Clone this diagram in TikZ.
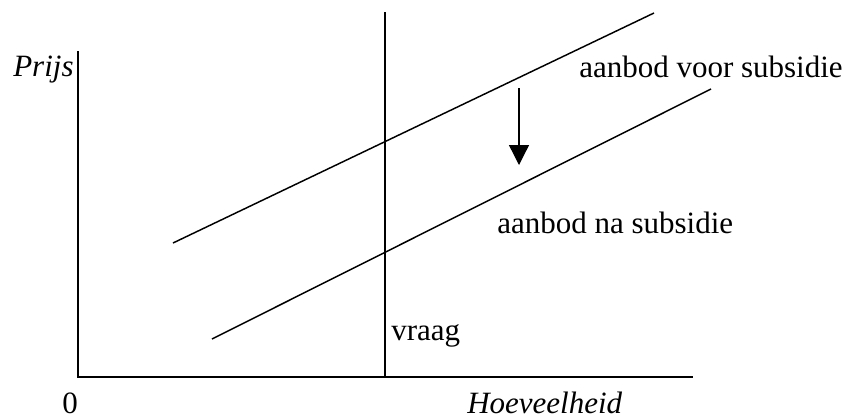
\documentclass[tikz,border=0pt]{standalone}
\usepackage{fontspec}
\setmainfont{Liberation Serif}
\usetikzlibrary{arrows.meta}
\begin{document}
\begin{tikzpicture}[x=0.75pt,y=-0.75pt,
  lbl/.style={inner sep=0pt,anchor=base west,font=\fontsize{23.25}{27}\selectfont},
  ilbl/.style={lbl,font=\fontsize{23.25}{27}\selectfont\itshape},
  curve/.style={line width=1.1pt},
  shiftarrow/.style={line width=1pt,-{Triangle[width=15pt,length=15pt]}}]
\useasboundingbox (0,0) rectangle (851,419);
% axes
\coordinate (ytop) at (78,51);
\coordinate (orig) at (78,377);
\coordinate (xend) at (693,377);
\draw[curve] (ytop) -- (orig) -- (xend);
% demand
\coordinate (dtop) at (385,12);
\coordinate (dbot) at (385,377);
\draw[curve] (dtop) -- (dbot);
% supply before
\coordinate (s1a) at (173,243);
\coordinate (s1b) at (654,13);
\draw[curve] (s1a) -- (s1b);
% supply after
\coordinate (s2a) at (212,339);
\coordinate (s2b) at (711,89);
\draw[curve] (s2a) -- (s2b);
% arrow
\coordinate (ar1) at (519,88);
\coordinate (ar2) at (519,165);
\draw[shiftarrow] (ar1) -- (ar2);
% labels
\node[ilbl] (prijs) at (13,76) {Prijs};
\node[lbl] (nul) at (62,413) {0};
\node[ilbl] (hoev) at (467,413) {Hoeveelheid};
\node[lbl] (vraag) at (391,340) {vraag};
\node[lbl] (voor) at (579,77) {aanbod voor subsidie};
\node[lbl] (na) at (497,233) {aanbod na subsidie};
\end{tikzpicture}
\end{document}
